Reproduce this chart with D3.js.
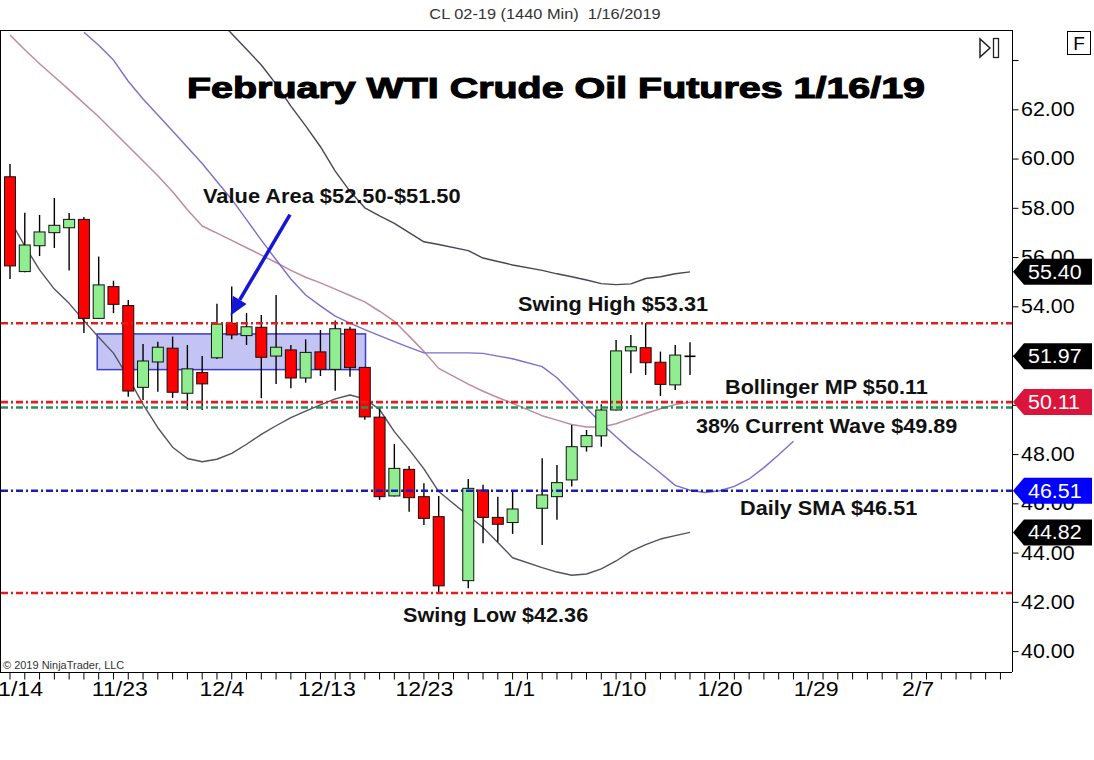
<!DOCTYPE html>
<html>
<head>
<meta charset="utf-8">
<script src="https://cdn.jsdelivr.net/npm/d3@7"></script>
<style>
  body { margin: 0; background: #fff; }
  text { font-family: "Liberation Sans", Arial, sans-serif; }
</style>
</head>
<body>
<svg id="chart" width="1094" height="760"></svg>
<script>
// ---- data: daily bars (slot = trading-day position, 30 and 35 are holiday gaps)
const slots = [0,1,2,3,4,5,6,7,8,9,10,11,12,13,14,15,16,17,18,19,20,21,22,23,24,25,26,27,28,29,
               31,32,33,34,36,37,38,39,40,41,42,43,44,45,46];
const open  = [59.26,55.41,56.46,56.99,57.19,57.53,53.51,54.80,54.03,50.71,51.74,52.30,50.47,51.31,51.91,
               53.31,52.81,53.15,51.98,52.23,51.09,52.15,51.44,53.07,51.52,49.50,46.30,47.38,46.27,45.46,
               42.86,46.54,45.43,45.22,45.80,46.27,46.95,48.30,48.74,49.79,52.19,52.32,51.73,50.81,51.97];
const high  = [59.78,57.80,57.71,58.40,57.79,57.63,56.02,55.04,54.26,52.47,52.56,52.77,52.43,51.98,54.10,
               54.80,53.73,53.65,54.46,52.43,52.66,53.04,53.42,53.17,51.55,49.90,48.41,47.52,46.82,46.30,
               46.99,46.75,46.27,46.54,47.83,47.56,49.18,48.98,50.02,52.63,52.84,53.31,52.16,52.43,52.54];
const low   = [55.11,55.38,56.04,56.37,55.45,52.92,53.49,53.72,50.33,50.20,50.53,50.28,49.79,49.79,51.86,
               52.66,52.43,50.27,50.85,50.67,50.90,51.17,50.57,51.14,49.39,46.14,46.28,45.66,45.12,42.36,
               42.55,44.38,44.44,44.76,44.31,45.33,46.68,48.10,48.30,49.77,51.28,51.21,50.36,50.60,51.21];
const close = [55.64,56.49,57.02,57.29,57.53,53.51,54.87,54.08,50.56,51.78,52.34,50.51,51.46,50.85,53.28,
               52.84,53.17,51.93,52.34,51.09,52.13,51.44,53.09,51.51,49.51,46.27,47.42,46.23,45.39,42.65,
               46.61,45.43,45.15,45.77,46.34,46.84,48.30,48.75,49.79,52.19,52.36,51.71,50.83,52.02,51.97];

// ---- Bollinger bands (one value per bar, null = off chart)
const upperBand = [null,null,null,null,null,null,null,null,null,null,null,null,null,null,65.71,
                   65.07,64.44,63.80,63.02,62.13,61.33,60.48,59.49,58.67,58.00,57.67,57.37,56.99,56.62,56.51,
                   56.26,55.96,55.82,55.68,55.46,55.32,55.20,55.07,54.92,54.88,54.91,55.13,55.20,55.32,55.40];
const midBand   = [65.02,64.42,63.85,63.32,62.79,62.24,61.70,61.10,60.50,59.90,59.30,58.65,57.92,57.26,56.97,
                   56.68,56.38,56.08,55.78,55.46,55.18,54.95,54.70,54.44,54.18,53.80,53.39,52.79,52.17,51.48,
                   50.84,50.55,50.30,50.06,49.56,49.38,49.20,49.10,49.10,49.23,49.44,49.65,49.84,50.01,50.11];
const lowerBand = [57.51,56.45,55.48,54.70,54.12,53.42,52.74,52.10,51.11,50.02,49.07,48.28,47.82,47.69,47.79,
                   48.03,48.40,48.80,49.15,49.48,49.74,50.00,50.24,50.40,50.24,49.81,48.91,48.18,47.40,46.48,
                   45.50,45.02,44.41,43.79,43.39,43.21,43.08,43.13,43.34,43.66,44.05,44.32,44.55,44.69,44.82];
// displaced SMA (runs past the last bar)
const smaLine   = [null,null,null,null,null,65.13,64.60,64.00,63.14,62.42,61.77,61.12,60.46,59.80,59.07,
                   58.34,57.52,56.69,55.89,55.11,54.46,54.02,53.60,53.32,53.05,52.81,52.57,52.33,52.11,52.11,
                   52.11,52.09,51.98,51.87,51.55,51.10,50.49,49.86,49.25,48.70,48.17,47.71,47.23,46.73,46.53];
const smaFutureSlots = [47,48,49,50,51,52,53];
const smaFuture      = [46.44,46.51,46.69,46.99,47.45,47.97,48.52];

// ---- levels, value area, price markers
const levels      = [53.31, 50.11, 49.89, 46.51, 42.36];
const valueArea   = {fromSlot: 5.9, toSlot: 24.05, top: 52.88, bottom: 51.43};
const markerVals  = [55.40, 51.97, 50.11, 46.51, 44.82];
const priceTicks  = [40,42,44,46,48,50,52,54,56,58,60,62,64];
const hiddenTicks = [50, 52, 64]; // labels covered by the markers / widgets
const dateTicks   = [0.3, 7.4, 14.3, 21.4, 28, 34.4, 41.5, 48, 54.5, 61.4];
const dateLabels  = ["11/14","11/23","12/4","12/13","12/23","1/1","1/10","1/20","1/29","2/7"];
const arrowFrom   = [18.94, 57.72];
const arrowTo     = [14.92, 53.63];

// ---- styles
const levelColors  = ["#e21d1d", "#e21d1d", "#2e8b57", "#1c1cb4", "#e21d1d"];
const markerColors = ["#000", "#000", "#dc143c", "#0000ff", "#000"];

const svg = d3.select("#chart");
const plot = {left: 1, right: 1012, top: 31, bottom: 672};

const x = d3.scaleLinear().domain([0, 46]).range([10, 690]);
const y = d3.scaleLinear().domain([40, 62]).range([651.1, 109.3]);

svg.append("rect").attr("width", 1094).attr("height", 760).attr("fill", "#fff");

svg.append("defs").append("clipPath").attr("id", "clip")
  .append("rect")
    .attr("x", plot.left).attr("y", plot.top)
    .attr("width", plot.right - plot.left).attr("height", plot.bottom - plot.top);

// stretched text helper (the screenshot is slightly wide)
function label(g, px, py, str, sx) {
  return g.append("text")
    .attr("transform", `translate(${px},${py}) scale(${sx},1)`)
    .text(str);
}

// header
label(svg, 545, 19, "CL 02-19 (1440 Min)  1/16/2019", 1.17)
  .attr("text-anchor", "middle").attr("font-size", 14).attr("fill", "#333")
  .attr("xml:space", "preserve").style("white-space", "pre");

const g = svg.append("g").attr("clip-path", "url(#clip)");

// value area box
g.append("rect")
  .attr("x", x(valueArea.fromSlot))
  .attr("y", y(valueArea.top))
  .attr("width", x(valueArea.toSlot) - x(valueArea.fromSlot))
  .attr("height", y(valueArea.bottom) - y(valueArea.top))
  .attr("fill", "#c4c4f4")
  .attr("stroke", "#3b3bd0")
  .attr("stroke-width", 1.5);

// indicator lines
const bars = slots.map((s, i) => ({
  slot: s, o: open[i], h: high[i], l: low[i], c: close[i],
  up: upperBand[i], mid: midBand[i], lo: lowerBand[i], sma: smaLine[i]
}));

function drawLine(pts, color, width) {
  const line = d3.line()
    .defined(d => d[1] != null)
    .x(d => x(d[0]))
    .y(d => y(d[1]));
  g.append("path")
    .datum(pts)
    .attr("d", line)
    .attr("fill", "none")
    .attr("stroke", color)
    .attr("stroke-width", width)
    .attr("stroke-linejoin", "round");
}

drawLine(bars.map(d => [d.slot, d.up]), "#4a4458", 1.4);
drawLine(bars.map(d => [d.slot, d.lo]), "#555060", 1.4);
drawLine(bars.map(d => [d.slot, d.mid]), "#c08aa2", 1.5);
drawLine(bars.map(d => [d.slot, d.sma]).concat(smaFutureSlots.map((s, i) => [s, smaFuture[i]])), "#7a70cc", 1.4);

// candles
const candle = g.append("g").selectAll("g")
  .data(bars)
  .join("g");

candle.append("line")
  .attr("x1", d => x(d.slot)).attr("x2", d => x(d.slot))
  .attr("y1", d => y(d.h)).attr("y2", d => y(d.l))
  .attr("stroke", "#000").attr("stroke-width", 1.4);

candle.filter(d => d.o !== d.c).append("rect")
  .attr("x", d => x(d.slot) - 5.5)
  .attr("width", 11)
  .attr("y", d => y(Math.max(d.o, d.c)))
  .attr("height", d => Math.max(1, Math.abs(y(d.o) - y(d.c))))
  .attr("fill", d => d.c > d.o ? "#90ee90" : "#ff0000")
  .attr("stroke", "#111")
  .attr("stroke-width", 1);

candle.filter(d => d.o === d.c).append("line")
  .attr("x1", d => x(d.slot) - 5.5).attr("x2", d => x(d.slot) + 5.5)
  .attr("y1", d => y(d.c)).attr("y2", d => y(d.c))
  .attr("stroke", "#000").attr("stroke-width", 1.6);

// horizontal levels
g.append("g").selectAll("line")
  .data(levels)
  .join("line")
    .attr("x1", plot.left).attr("x2", plot.right)
    .attr("y1", d => y(d)).attr("y2", d => y(d))
    .attr("stroke", (d, i) => levelColors[i])
    .attr("stroke-width", 2.6)
    .attr("stroke-dasharray", "7,3,2,3");

// arrow to the value area
const ax0 = x(arrowFrom[0]), ay0 = y(arrowFrom[1]);
const ax1 = x(arrowTo[0]), ay1 = y(arrowTo[1]);
const ang = Math.atan2(ay1 - ay0, ax1 - ax0);
const headLen = 18, headW = 8;
const bx = ax1 - headLen * Math.cos(ang), by = ay1 - headLen * Math.sin(ang);
g.append("line")
  .attr("x1", ax0).attr("y1", ay0).attr("x2", bx).attr("y2", by)
  .attr("stroke", "#1515d8").attr("stroke-width", 3.5);
g.append("path")
  .attr("d", d3.line()([
    [ax1, ay1],
    [bx + headW * Math.sin(ang), by - headW * Math.cos(ang)],
    [bx - headW * Math.sin(ang), by + headW * Math.cos(ang)]
  ]) + "Z")
  .attr("fill", "#1515d8");

// annotations
const notes = svg.append("g")
  .attr("font-weight", "bold").attr("font-size", 19.5).attr("fill", "#111");
label(notes, 203, 203, "Value Area $52.50-$51.50", 1.12);
label(notes, 518, 311, "Swing High $53.31", 1.11);
label(notes, 725, 394, "Bollinger MP $50.11", 1.11);
label(notes, 696, 433, "38% Current Wave $49.89", 1.11);
label(notes, 740, 515, "Daily SMA $46.51", 1.11);
label(notes, 403, 622, "Swing Low $42.36", 1.11);

// title
svg.append("text")
  .attr("x", 187).attr("y", 98)
  .attr("textLength", 738).attr("lengthAdjust", "spacingAndGlyphs")
  .attr("font-family", "'DejaVu Sans', sans-serif")
  .attr("font-weight", "bold").attr("font-size", 30)
  .attr("fill", "#000").attr("stroke", "#000").attr("stroke-width", 1.1)
  .text("February WTI Crude Oil Futures 1/16/19");

label(svg, 3, 669, "© 2019 NinjaTrader, LLC", 1.1)
  .attr("font-size", 10).attr("fill", "#333");

// frame
const frame = svg.append("g").attr("stroke", "#000").attr("stroke-width", 1);
frame.append("line").attr("x1", 0).attr("x2", plot.right).attr("y1", 30.5).attr("y2", 30.5);
frame.append("line").attr("x1", 0.5).attr("x2", 0.5).attr("y1", 30).attr("y2", plot.bottom);

// price axis
const yAxis = svg.append("g")
  .attr("transform", `translate(${plot.right + 0.5},0)`)
  .call(d3.axisRight(y)
    .tickValues(priceTicks)
    .tickSize(6)
    .tickPadding(2)
    .tickFormat(d => hiddenTicks.includes(d) ? "" : d3.format(".2f")(d)));
yAxis.select(".domain").remove();
yAxis.append("line").attr("y1", 30).attr("y2", plot.bottom).attr("stroke", "#000");
yAxis.selectAll(".tick line").attr("stroke", "#000");
yAxis.selectAll(".tick text")
  .attr("font-size", 20).attr("fill", "#000")
  .attr("font-family", "'Liberation Sans', Arial, sans-serif")
  .attr("transform", "scale(1.07,1)");

// date axis
const xAxis = svg.append("g")
  .attr("transform", `translate(0,${plot.bottom + 0.5})`)
  .call(d3.axisBottom(x)
    .tickValues(dateTicks)
    .tickSize(0)
    .tickPadding(9)
    .tickFormat((d, i) => dateLabels[i]));
xAxis.select(".domain").remove();
xAxis.append("line").attr("x1", 0).attr("x2", plot.right).attr("stroke", "#000");
xAxis.selectAll(".tick text")
  .attr("font-size", 21).attr("fill", "#000")
  .attr("font-family", "'Liberation Sans', Arial, sans-serif")
  .attr("transform", "scale(1.1,1)");
xAxis.append("g").selectAll("line")
  .data(d3.range(0, 68))
  .join("line")
    .attr("x1", d => x(d)).attr("x2", d => x(d))
    .attr("y1", 0).attr("y2", 7)
    .attr("stroke", "#000");

// price markers on the axis
const mk = svg.append("g").selectAll("g")
  .data(markerVals)
  .join("g")
    .attr("transform", d => `translate(${plot.right + 1},${y(d)})`);
mk.append("path")
  .attr("d", "M0,0 L11,-13 L79,-13 L79,13 L11,13 Z")
  .attr("fill", (d, i) => markerColors[i]);
mk.append("text")
  .attr("transform", "translate(15,7) scale(1.07,1)")
  .attr("font-size", 20).attr("fill", "#fff")
  .text(d => d3.format(".2f")(d));

// top-right widgets
svg.append("rect").attr("x", 1067.5).attr("y", 31.5).attr("width", 23).attr("height", 23)
  .attr("fill", "#fff").attr("stroke", "#000");
svg.append("text").attr("x", 1079).attr("y", 50).attr("text-anchor", "middle")
  .attr("font-size", 19).text("F");
svg.append("path").attr("d", "M980,39 L980,57 L990,48 Z")
  .attr("fill", "none").attr("stroke", "#222").attr("stroke-width", 1.5);
svg.append("rect").attr("x", 993.5).attr("y", 38.5).attr("width", 5).attr("height", 19)
  .attr("fill", "none").attr("stroke", "#222").attr("stroke-width", 1.3);
</script>
</body>
</html>
